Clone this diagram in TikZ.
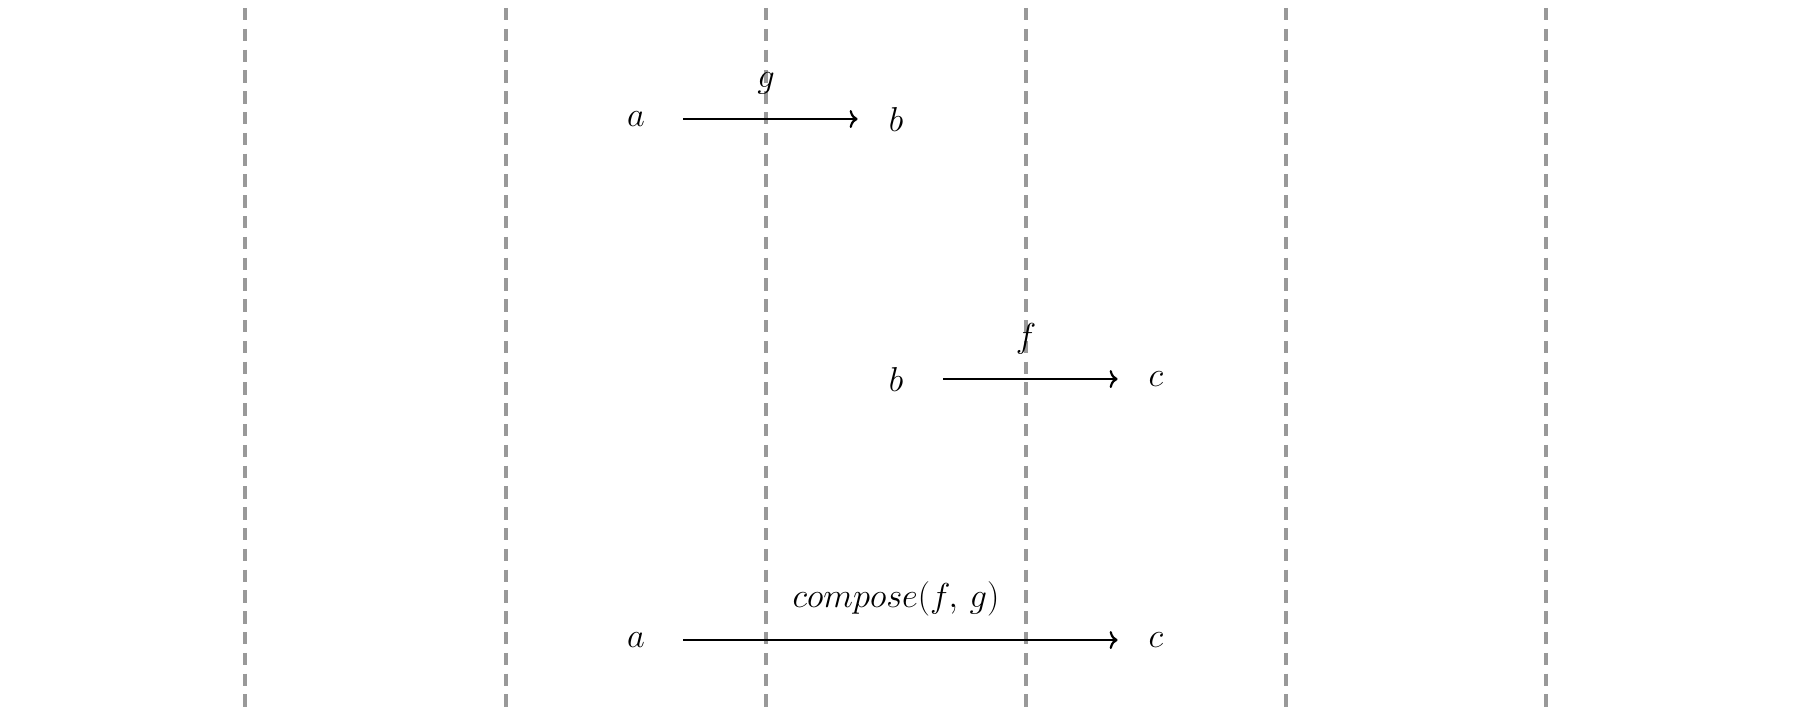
\documentclass[tikz,border=0pt]{standalone}
\usetikzlibrary{arrows.meta}
\newcommand{\objtxt}[1]{\raisebox{-0.7pt}{$#1$}}
\begin{document}
\begin{tikzpicture}[x=0.5pt,y=-0.5pt,
  grid/.style={draw=black!40, line width=2pt, dash pattern=on 6.2pt off 4.2pt},
  obj/.style={inner sep=0pt, minimum width=38pt, minimum height=14pt, font=\fontsize{16.5}{20}\selectfont},
  lbl/.style={inner sep=0pt, font=\fontsize{16.5}{20}\selectfont},
  mor/.style={draw=black, line width=1.1pt, -{To[length=4pt,width=9pt]}, shorten <=4.5pt}]
\useasboundingbox (0,0) rectangle (1798,712);
\foreach \x in {245,506,766,1026,1286,1546}
  \draw[grid] (\x,8) -- (\x,707);
\node[obj] (a1) at (636,119) {\objtxt{a}};
\node[obj] (b1) at (896,119) {\objtxt{b}};
\node[obj] (b2) at (896,379) {\objtxt{b}};
\node[obj] (c2) at (1156,379) {\objtxt{c}};
\node[obj] (a3) at (636,640) {\objtxt{a}};
\node[obj] (c3) at (1156,640) {\objtxt{c}};
\draw[mor] (a1) -- node[lbl, above=12pt] {$g$} (b1);
\draw[mor] (b2) -- node[lbl, above=12pt] {$f$} (c2);
\draw[mor] (a3) -- node[lbl, above=11.5pt, font=\fontsize{16}{20}\selectfont] {$compose(f,\,g)$} (c3);
\end{tikzpicture}
\end{document}
